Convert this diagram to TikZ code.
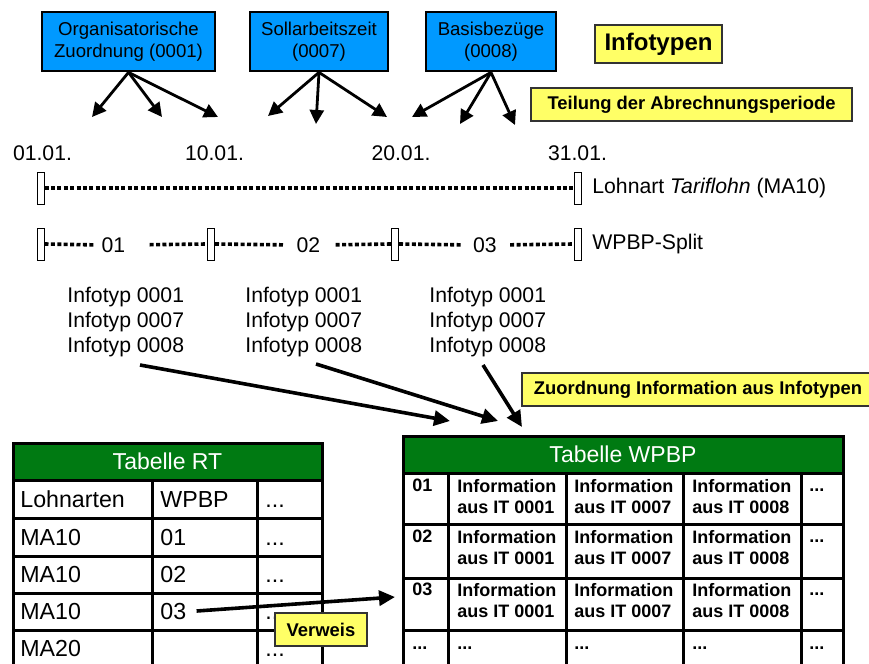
\documentclass[tikz,border=0pt]{standalone}
\usepackage{fontspec}
\setmainfont{Liberation Sans}
\usetikzlibrary{arrows.meta}

\definecolor{itblau}{RGB}{0,153,255}
\definecolor{notizgelb}{RGB}{255,255,102}
\definecolor{tabgruen}{RGB}{0,122,18}

\tikzset{
  itbox/.style={draw=black, line width=1.4pt, fill=itblau, align=center, inner sep=0pt,
    minimum height=29.5pt, font=\fontsize{9.3}{11}\selectfont},
  notiz/.style={draw=black!80, line width=0.8pt, fill=notizgelb, inner sep=0pt,
    minimum height=16.5pt, font=\bfseries\fontsize{9.2}{11}\selectfont},
  pfeil/.style={line width=1.4pt, -{Triangle[length=7pt,width=7pt]}},
  dickpfeil/.style={line width=1.8pt, -{Triangle[length=8pt,width=7.5pt]}},
  marke/.style={draw, line width=0.5pt, fill=white, minimum width=3.5pt, minimum height=16pt, inner sep=0pt},
  punktlinie/.style={line width=1.8pt, dash pattern=on 2pt off 1.2pt},
  txt/.style={font=\fontsize{10.6}{12.5}\selectfont, inner sep=0pt},
  tab/.style={line width=1.5pt},
  kopf/.style={font=\fontsize{11.5}{14}\selectfont, text=white, inner sep=0pt},
  rtzelle/.style={font=\fontsize{11.6}{14}\selectfont, inner sep=0pt, anchor=base west},
  wpzelle/.style={font=\bfseries\fontsize{9}{10.5}\selectfont, inner sep=0pt, anchor=north west, align=left},
}

\begin{document}
\begin{tikzpicture}[x=0.5pt, y=-0.5pt]
    \clip (0,0) rectangle (869,664);

    % Infotypen
    \node[itbox, minimum width=86.5pt] (org) at (128.5,41.5) {Organisatorische\\Zuordnung (0001)};
    \node[itbox, minimum width=69pt] (soll) at (319,41.5) {Sollarbeitszeit\\(0007)};
    \node[itbox, minimum width=65pt] (basis) at (491,41.5) {Basisbezüge\\(0008)};
    \node[notiz, minimum width=63.5pt, minimum height=19pt, font=\bfseries\fontsize{12}{14}\selectfont] (infotypen) at (658.5,44) {Infotypen};
    \node[notiz, minimum width=160.5pt] (teilung) at (691.5,104.5) {Teilung der Abrechnungsperiode};

    % Pfeile auf die Periode
    \coordinate (o1) at (92,117);  \coordinate (o2) at (162,117); \coordinate (o3) at (218,117);
    \coordinate (s1) at (268,116); \coordinate (s2) at (316,124); \coordinate (s3) at (387,117);
    \coordinate (b1) at (412,117); \coordinate (b2) at (460,124); \coordinate (b3) at (515,125);
    \foreach \z in {o1,o2,o3} \draw[pfeil] (org.south) -- (\z);
    \foreach \z in {s1,s2,s3} \draw[pfeil] (soll.south) -- (\z);
    \foreach \z in {b1,b2,b3} \draw[pfeil] (basis.south) -- (\z);

    % Stichtage
    \node[txt] (d01) at (42.5,153) {01.01.};
    \node[txt] (d10) at (214.5,153) {10.01.};
    \node[txt] (d20) at (401,153) {20.01.};
    \node[txt] (d31) at (577.5,153) {31.01.};

    % Lohnart
    \node[marke] (l1) at (40.5,188) {};
    \node[marke] (l2) at (577.5,188) {};
    \draw[punktlinie] (l1.east) -- (l2.west);
    \node[txt, anchor=west] (lohnart) at (592,188) {Lohnart \textit{Tariflohn} (MA10)};

    % WPBP-Split
    \node[marke] (w1) at (40.5,244) {};
    \node[marke] (w2) at (211,244) {};
    \node[marke] (w3) at (395,244) {};
    \node[marke] (w4) at (577.5,244) {};
    \node[txt] (p01) at (113.5,245) {01};
    \node[txt] (p02) at (308.5,245) {02};
    \node[txt] (p03) at (485,245) {03};
    \draw[punktlinie, shorten >=3pt] (w1.east) -- (p01.west);
    \draw[punktlinie, shorten <=12pt] (p01.east) -- (w2.west);
    \draw[punktlinie, shorten >=6pt] (w2.east) -- (p02.west);
    \draw[punktlinie, shorten <=7.5pt] (p02.east) -- (w3.west);
    \draw[punktlinie, shorten >=5pt] (w3.east) -- (p03.west);
    \draw[punktlinie, shorten <=6.5pt] (p03.east) -- (w4.west);
    \node[txt, anchor=west] (split) at (592,244) {WPBP-Split};

    % Infotypen je Teilperiode
    \node[txt, anchor=north west, align=left] (it1) at (67,287) {Infotyp 0001\\Infotyp 0007\\Infotyp 0008};
    \node[txt, anchor=north west, align=left] (it2) at (245,287) {Infotyp 0001\\Infotyp 0007\\Infotyp 0008};
    \node[txt, anchor=north west, align=left] (it3) at (429,287) {Infotyp 0001\\Infotyp 0007\\Infotyp 0008};

    \node[notiz, minimum width=176pt] (zuord) at (698,389.5) {Zuordnung Information aus Infotypen};

    \coordinate (m1) at (140,365); \coordinate (n1) at (450,421);
    \coordinate (m2) at (316,364); \coordinate (n2) at (498,421);
    \coordinate (m3) at (483,365); \coordinate (n3) at (522,427);
    \draw[dickpfeil] (m1) -- (n1);
    \draw[dickpfeil] (m2) -- (n2);
    \draw[dickpfeil] (m3) -- (n3);

    % Tabelle RT
    \fill[tabgruen] (13,443) rectangle (322,480);
    \draw[tab] (13,443) rectangle (322,700);
    \foreach \y in {480,518,556,593,630} \draw[tab] (13,\y) -- (322,\y);
    \foreach \x in {152,257} \draw[tab] (\x,480) -- (\x,700);
    \node[kopf] (rtkopf) at (167.5,461.5) {Tabelle RT};
    \foreach \y/\a/\b [count=\i] in {507/Lohnarten/WPBP, 545/MA10/01, 582/MA10/02, 619/MA10/03, 656/MA20/{}} {
        \node[rtzelle] (rt\i-a) at (20,\y) {\a};
        \node[rtzelle] (rt\i-b) at (160,\y) {\b};
        \node[rtzelle] (rt\i-c) at (265,\y) {...};
    }

    % Tabelle WPBP
    \fill[tabgruen] (403,436) rectangle (843,473);
    \draw[tab] (403,436) rectangle (843,700);
    \foreach \y in {473,524,578,630} \draw[tab] (403,\y) -- (843,\y);
    \foreach \x in {448,566,683,801} \draw[tab] (\x,473) -- (\x,700);
    \node[kopf] (wpkopf) at (623,454.5) {Tabelle WPBP};
    \foreach \y/\n [count=\i] in {479/01, 530/02, 583/03} {
        \node[wpzelle] (wp\i-0) at (412,\y) {\n};
        \node[wpzelle] (wp\i-1) at (457,\y) {Information\\aus IT 0001};
        \node[wpzelle] (wp\i-7) at (574,\y) {Information\\aus IT 0007};
        \node[wpzelle] (wp\i-8) at (692,\y) {Information\\aus IT 0008};
        \node[wpzelle] (wp\i-x) at (809,\y) {\vphantom{I}...};
    }
    \foreach \x [count=\j] in {412,457,574,692,809}
        \node[wpzelle] (wp4-\j) at (\x,637) {\vphantom{I}...};

    % Verweis
    \coordinate (v1) at (395,597);
    \draw[dickpfeil] ([xshift=5pt]rt4-b.east) -- (v1);
    \node[notiz, minimum width=46pt] (verweis) at (321,629.5) {Verweis};
\end{tikzpicture}
\end{document}
